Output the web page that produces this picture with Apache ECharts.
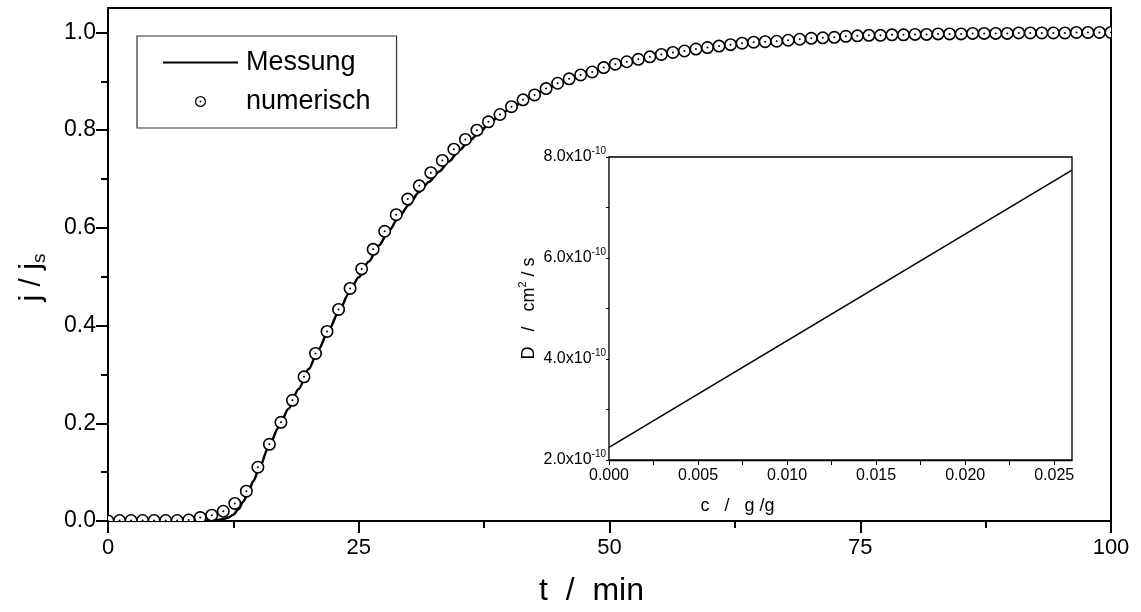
<!DOCTYPE html>
<html>
<head>
<meta charset="utf-8">
<script src="https://cdn.jsdelivr.net/npm/echarts@6/dist/echarts.min.js"></script>
<style>
  html, body { margin: 0; padding: 0; background: #fff; }
  #chart { width: 1141px; height: 612px; }
</style>
</head>
<body>
<div id="chart"></div>
<script>
// Numerical solution: flux ratio j/js sampled on a regular time grid (0 … 100 min, 87 steps)
const numStep = 100 / 87;
const numJ = [
  0.000, 0.001, 0.001, 0.001, 0.001, 0.001, 0.001, 0.002, 0.007, 0.012,
  0.020, 0.036, 0.061, 0.110, 0.157, 0.202, 0.247, 0.295, 0.343, 0.388,
  0.433, 0.476, 0.516, 0.556, 0.593, 0.627, 0.659, 0.686, 0.713, 0.738,
  0.761, 0.781, 0.800, 0.817, 0.832, 0.848, 0.862, 0.872, 0.885, 0.896,
  0.905, 0.913, 0.919, 0.928, 0.935, 0.940, 0.945, 0.950, 0.955, 0.959,
  0.962, 0.966, 0.969, 0.972, 0.975, 0.978, 0.980, 0.981, 0.982, 0.984,
  0.986, 0.988, 0.989, 0.990, 0.992, 0.993, 0.994, 0.994, 0.995, 0.995,
  0.996, 0.996, 0.997, 0.997, 0.997, 0.998, 0.998, 0.998, 0.998, 0.999,
  0.999, 0.999, 0.999, 0.999, 1.000, 1.000, 1.000, 1.000
];

// Measured permeation curve
const measT = [0, 5, 9, 10, 11, 11.5, 12, 12.5, 13, 13.5, 14, 14.5, 15, 16, 17, 18, 19, 20,
  21, 22, 23, 24, 25, 26, 27, 28, 29, 30, 31, 32, 33, 34, 35, 36, 37, 38, 39, 40,
  42, 44, 46, 48, 50, 55, 60, 65, 70, 75, 80, 85, 90, 95, 100];
const measJ = [0, 0, 0, 0.001, 0.002, 0.004, 0.007, 0.013, 0.024, 0.040, 0.060, 0.082, 0.104, 0.150, 0.191, 0.230, 0.270, 0.311,
  0.352, 0.391, 0.428, 0.465, 0.499, 0.531, 0.564, 0.594, 0.622, 0.647, 0.673, 0.694, 0.715, 0.736, 0.758, 0.778, 0.794, 0.814, 0.828, 0.843,
  0.866, 0.888, 0.904, 0.918, 0.930, 0.955, 0.969, 0.980, 0.987, 0.991, 0.994, 0.996, 0.998, 0.999, 1.000];

// Inset: concentration-dependent diffusion coefficient D(c)
const concC = [0, 0.026];
const diffD = [2.25e-10, 7.74e-10];

// Tick positions and labels
const mainXMax = 100;
const mainYMax = 1.05;
const mainYLabels = [0, 0.2, 0.4, 0.6, 0.8, 1.0];
const mainYMinor = [0.1, 0.3, 0.5, 0.7, 0.9];
const insetXTicks = [0, 0.0025, 0.005, 0.0075, 0.01, 0.0125, 0.015, 0.0175, 0.02, 0.0225, 0.025];
const insetXLabels = [0, 0.005, 0.01, 0.015, 0.02, 0.025];
const insetYTicks = [2e-10, 3e-10, 4e-10, 5e-10, 6e-10, 7e-10, 8e-10];
const insetYLabels = [2e-10, 4e-10, 6e-10, 8e-10];

const FONT = "'Liberation Sans', Arial, Helvetica, sans-serif";
const BLACK = '#000';

const numData = numJ.map((v, i) => [i * numStep, v]);
const measData = measT.map((t, i) => [t, measJ[i]]);
const diffData = concC.map((c, i) => [c, diffD[i]]);

// ring with a centre dot, used as legend icon for the simulated points
const ringIcon = 'path://M10,0A10,10 0 1,1 10,20A10,10 0 1,1 10,0Z' +
  'M10,2.2A7.8,7.8 0 1,0 10,17.8A7.8,7.8 0 1,0 10,2.2Z' +
  'M10,8.2A1.8,1.8 0 1,1 10,11.8A1.8,1.8 0 1,1 10,8.2Z';
// plain stroke used as legend icon for the measured curve
const lineIcon = 'path://M0,0H75V2H0Z';

const chart = echarts.init(document.getElementById('chart'), null, { renderer: 'canvas' });

const option = {
  animation: false,
  backgroundColor: '#fff',
  textStyle: { fontFamily: FONT, color: BLACK },
  grid: [
    { left: 108, right: 30, top: 8, bottom: 90, show: true, borderColor: BLACK, borderWidth: 2, backgroundColor: 'transparent' },
    { left: 609, right: 69, top: 157, bottom: 152, show: true, borderColor: BLACK, borderWidth: 1.3, backgroundColor: '#fff', z: 5 }
  ],
  legend: {
    orient: 'vertical',
    left: 137,
    top: 36,
    padding: [13, 26, 13, 26],
    itemGap: 12,
    itemWidth: 75,
    itemHeight: 11,
    borderColor: '#333',
    borderWidth: 1.2,
    backgroundColor: '#fff',
    textStyle: { fontFamily: FONT, fontSize: 27, color: BLACK, lineHeight: 26, padding: [0, 0, 0, 3] },
    data: [
      { name: 'Messung', icon: lineIcon, itemStyle: { color: BLACK, borderWidth: 0 } },
      { name: 'numerisch', icon: ringIcon, itemStyle: { color: BLACK, borderWidth: 0 } }
    ]
  },
  xAxis: [
    {
      type: 'value', gridIndex: 0, min: 0, max: mainXMax, interval: 25,
      name: 't  /  min', nameLocation: 'middle', nameGap: 54,
      nameTextStyle: { fontFamily: FONT, fontSize: 32, color: BLACK, padding: [0, 36, 0, 0] },
      axisLine: { onZero: false, lineStyle: { color: BLACK, width: 2 } },
      axisTick: { inside: false, length: 12, lineStyle: { color: BLACK, width: 2 } },
      minorTick: { show: true, splitNumber: 2, length: 7, lineStyle: { color: BLACK, width: 2 } },
      splitLine: { show: false },
      axisLabel: { fontFamily: FONT, fontSize: 22, color: BLACK, margin: 16 }
    },
    {
      type: 'value', gridIndex: 1, min: 0, max: 0.026,
      name: 'c   /   g /g', nameLocation: 'middle', nameGap: 37,
      nameTextStyle: { fontFamily: FONT, fontSize: 18, color: BLACK, padding: [0, 206, 0, 0] },
      axisLine: { onZero: false, lineStyle: { color: BLACK, width: 1.3 } },
      axisTick: { inside: false, length: 5, customValues: insetXTicks, lineStyle: { color: BLACK, width: 1 } },
      splitLine: { show: false },
      axisLabel: {
        fontFamily: FONT, fontSize: 16, color: BLACK, margin: 8,
        customValues: insetXLabels, formatter: v => v.toFixed(3)
      }
    }
  ],
  yAxis: [
    {
      type: 'value', gridIndex: 0, min: 0, max: mainYMax,
      name: '{a|j / j}{b|s}', nameLocation: 'middle', nameGap: 60,
      nameTextStyle: {
        fontFamily: FONT, color: BLACK, padding: [0, 26, 0, 0],
        rich: {
          a: { fontFamily: FONT, fontSize: 30, lineHeight: 32, color: BLACK },
          b: { fontFamily: FONT, fontSize: 19, lineHeight: 19, padding: [15, 0, 0, 0], color: BLACK }
        }
      },
      axisLine: { onZero: false, lineStyle: { color: BLACK, width: 2 } },
      axisTick: { inside: false, length: 12, customValues: mainYLabels, lineStyle: { color: BLACK, width: 2 } },
      splitLine: { show: false },
      axisLabel: {
        fontFamily: FONT, fontSize: 23, color: BLACK, margin: 12,
        customValues: mainYLabels, formatter: v => v.toFixed(1)
      }
    },
    {
      type: 'value', gridIndex: 0, min: 0, max: mainYMax, position: 'left',
      axisLine: { show: false },
      axisTick: { inside: false, length: 7, customValues: mainYMinor, lineStyle: { color: BLACK, width: 2 } },
      axisLabel: { show: false },
      splitLine: { show: false }
    },
    {
      type: 'value', gridIndex: 1, min: 2e-10, max: 8e-10,
      name: '{n|D   /   cm}{s|2}{n| / s}', nameLocation: 'middle', nameGap: 68,
      nameTextStyle: {
        fontFamily: FONT, color: BLACK,
        rich: {
          n: { fontFamily: FONT, fontSize: 18, lineHeight: 20, color: BLACK },
          s: { fontFamily: FONT, fontSize: 11, lineHeight: 11, padding: [0, 0, 11, 0], color: BLACK }
        }
      },
      axisLine: { onZero: false, lineStyle: { color: BLACK, width: 1.3 } },
      axisTick: { inside: false, length: 3, customValues: insetYTicks, lineStyle: { color: BLACK, width: 1 } },
      splitLine: { show: false },
      axisLabel: {
        margin: 3, customValues: insetYLabels,
        formatter: v => '{m|' + (v / 1e-10).toFixed(1) + 'x10}{e|-10}',
        rich: {
          m: { fontFamily: FONT, fontSize: 16, lineHeight: 18, color: BLACK },
          e: { fontFamily: FONT, fontSize: 10, lineHeight: 10, padding: [0, 0, 12, 0], color: BLACK }
        }
      }
    }
  ],
  series: [
    {
      name: 'Messung', type: 'line', xAxisIndex: 0, yAxisIndex: 0,
      data: measData, symbol: 'none', smooth: 0.3, smoothMonotone: 'x',
      lineStyle: { color: BLACK, width: 2.5 }, itemStyle: { color: BLACK },
      clip: true, z: 2
    },
    {
      name: 'numerisch', type: 'custom', xAxisIndex: 0, yAxisIndex: 0,
      data: numData, clip: true, z: 3,
      itemStyle: { color: BLACK },
      encode: { x: 0, y: 1 },
      renderItem: function (params, api) {
        const p = api.coord([api.value(0), api.value(1)]);
        return {
          type: 'group',
          children: [
            { type: 'circle', shape: { cx: p[0], cy: p[1], r: 5.7 }, style: { fill: '#fff', stroke: BLACK, lineWidth: 1.6 } },
            { type: 'circle', shape: { cx: p[0], cy: p[1], r: 1.0 }, style: { fill: BLACK, stroke: null } }
          ]
        };
      }
    },
    {
      name: 'D', type: 'line', xAxisIndex: 1, yAxisIndex: 2,
      data: diffData, symbol: 'none',
      lineStyle: { color: BLACK, width: 1.6 }, z: 6
    }
  ]
};

chart.setOption(option);
</script>
</body>
</html>
